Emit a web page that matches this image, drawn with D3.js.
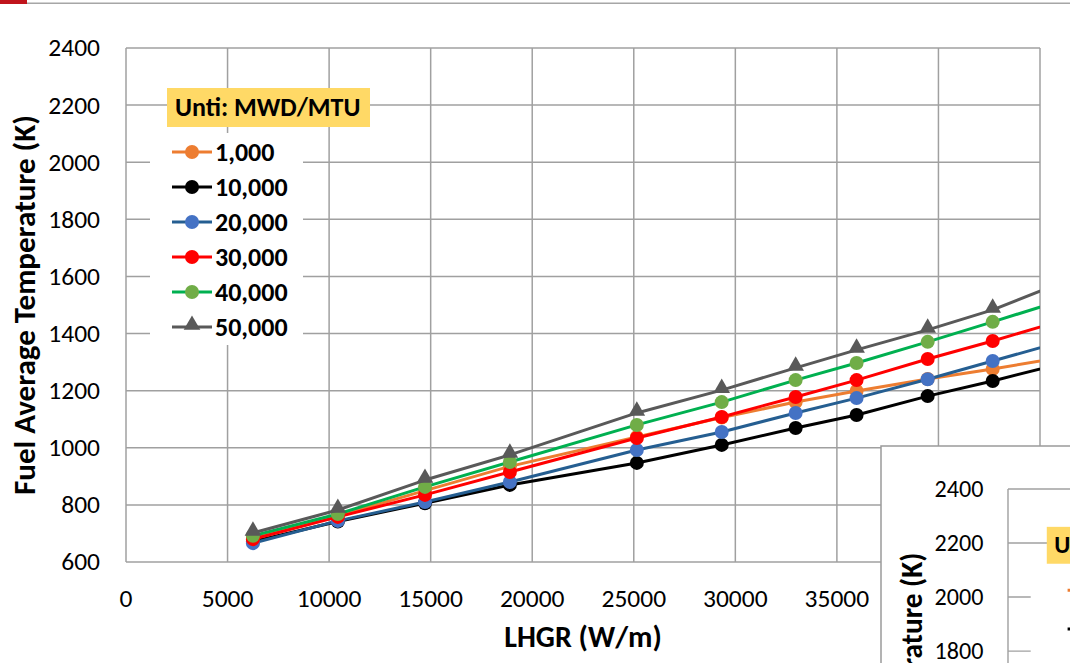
<!DOCTYPE html>
<html>
<head>
<meta charset="utf-8">
<script src="https://cdn.jsdelivr.net/npm/d3@7"></script>
<style>
  body { margin: 0; background: #fff; }
  svg { display: block; font-family: Carlito, Lato, "Open Sans", sans-serif; }
</style>
</head>
<body>
<div id="chart"></div>
<script>
// LHGR (W/m) at each calculated point; the last one lies past the axis end and is clipped
const lhgr = [6250, 10430, 14720, 18900, 25150, 29330, 32970, 35970, 39470, 42670, 46000];

// fuel average temperature (K) per burnup (MWD/MTU)
const t1000  = [688, 762, 850, 935, 1038, 1106, 1160, 1199, 1241, 1276, 1316];
const t10000 = [672, 742, 806, 870, 947, 1010, 1069, 1115, 1181, 1234, 1294];
const t20000 = [666, 744, 810, 880, 992, 1055, 1122, 1174, 1240, 1304, 1370];
const t30000 = [680, 758, 835, 915, 1034, 1108, 1178, 1237, 1311, 1374, 1444];
const t40000 = [692, 768, 863, 950, 1080, 1160, 1237, 1297, 1371, 1441, 1515];
const t50000 = [702, 782, 887, 975, 1122, 1202, 1280, 1343, 1413, 1483, 1577];

const seriesNames = ["1,000", "10,000", "20,000", "30,000", "40,000", "50,000"];
const xTicks = [0, 5000, 10000, 15000, 20000, 25000, 30000, 35000, 40000, 45000];
const yTicks = [600, 800, 1000, 1200, 1400, 1600, 1800, 2000, 2200, 2400];

const series = [
  { name: seriesNames[0], values: t1000,  line: "#ED7D31", mark: "#ED7D31", shape: "circle" },
  { name: seriesNames[1], values: t10000, line: "#000000", mark: "#000000", shape: "circle" },
  { name: seriesNames[2], values: t20000, line: "#255E91", mark: "#4472C4", shape: "circle" },
  { name: seriesNames[3], values: t30000, line: "#FF0000", mark: "#FF0000", shape: "circle" },
  { name: seriesNames[4], values: t40000, line: "#00B050", mark: "#70AD47", shape: "circle" },
  { name: seriesNames[5], values: t50000, line: "#595959", mark: "#595959", shape: "triangle" }
];

const W = 1070, H = 663;
const svg = d3.select("#chart").append("svg").attr("width", W).attr("height", H);

// slide header: red tab + grey rule
svg.append("rect").attr("x", 0).attr("y", 0).attr("width", 27).attr("height", 4).attr("fill", "#C0141C");
svg.append("rect").attr("x", 27).attr("y", 2.5).attr("width", W - 27).attr("height", 1.5).attr("fill", "#A6A6A6");

const x = d3.scaleLinear().domain([0, 45000]).range([126, 1040]);
const y = d3.scaleLinear().domain([600, 2400]).range([562, 48]);

let clipId = 0;

// leg = where the legend entries sit (the pasted copy has them a bit lower and wider apart)
function drawChart(root, leg) {
  const id = "plotclip" + (clipId++);
  root.append("clipPath").attr("id", id)
    .append("rect").attr("x", x(0)).attr("y", y(2400)).attr("width", x(45000) - x(0)).attr("height", y(600) - y(2400));

  // grid
  const grid = root.append("g").attr("stroke", "#A0A0A0").attr("stroke-width", 1.5);
  grid.selectAll("line.h").data(yTicks).join("line")
    .attr("x1", x(0)).attr("x2", x(45000)).attr("y1", d => y(d)).attr("y2", d => y(d));
  grid.selectAll("line.v").data(xTicks).join("line")
    .attr("x1", d => x(d)).attr("x2", d => x(d)).attr("y1", y(600)).attr("y2", y(2400));

  // tick labels
  root.append("g").selectAll("text").data(yTicks).join("text")
    .attr("x", x(0) - 26).attr("y", d => y(d)).attr("dy", "0.33em")
    .attr("text-anchor", "end").attr("font-size", 25.5).attr("fill", "#000")
    .text(d => d);
  root.append("g").selectAll("text").data(xTicks).join("text")
    .attr("x", d => x(d)).attr("y", y(600) + 45)
    .attr("text-anchor", "middle").attr("font-size", 25.5).attr("fill", "#000")
    .text(d => d);

  // axis titles
  root.append("text")
    .attr("transform", "translate(35," + ((y(600) + y(2400)) / 2) + ") rotate(-90)")
    .attr("text-anchor", "middle").attr("font-size", 31).attr("font-weight", "bold")
    .text("Fuel Average Temperature (K)");
  root.append("text")
    .attr("x", (x(0) + x(45000)) / 2).attr("y", 647)
    .attr("text-anchor", "middle").attr("font-size", 30).attr("font-weight", "bold")
    .text("LHGR (W/m)");

  // series
  const plot = root.append("g").attr("clip-path", "url(#" + id + ")");
  const line = d3.line().x((d, i) => x(lhgr[i])).y(d => y(d));
  const tri = d3.symbol().type(d3.symbolTriangle).size(120);
  series.forEach(s => {
    plot.append("path").datum(s.values)
      .attr("fill", "none").attr("stroke", s.line).attr("stroke-width", 3)
      .attr("stroke-linejoin", "round").attr("d", line);
    if (s.shape === "circle") {
      plot.append("g").selectAll("circle").data(s.values).join("circle")
        .attr("cx", (d, i) => x(lhgr[i])).attr("cy", d => y(d)).attr("r", 7)
        .attr("fill", s.mark);
    } else {
      plot.append("g").selectAll("path").data(s.values).join("path")
        .attr("transform", (d, i) => "translate(" + x(lhgr[i]) + "," + (y(d) - 2) + ")")
        .attr("d", tri).attr("fill", s.mark);
    }
  });

  // legend
  root.append("rect").attr("x", 150).attr("y", 133).attr("width", 153).attr("height", 212).attr("fill", "#fff");
  root.append("rect").attr("x", 167).attr("y", 88).attr("width", 203).attr("height", 39).attr("fill", "#FFD966");
  root.append("text").attr("x", 175).attr("y", 116)
    .attr("font-size", 26).attr("font-weight", "bold").text("Unti: MWD/MTU");
  const lg = root.append("g").selectAll("g").data(series).join("g")
    .attr("transform", (d, i) => "translate(" + leg.dx + "," + (leg.y0 + i * leg.step) + ")");
  lg.append("line").attr("x1", 172).attr("x2", 212).attr("y1", 0).attr("y2", 0)
    .attr("stroke", d => d.line).attr("stroke-width", 3);
  lg.filter(d => d.shape === "circle").append("circle")
    .attr("cx", 192).attr("cy", 0).attr("r", 7).attr("fill", d => d.mark);
  lg.filter(d => d.shape === "triangle").append("path")
    .attr("transform", "translate(192,-2)").attr("d", tri).attr("fill", d => d.mark);
  lg.append("text").attr("x", 215).attr("y", 0).attr("dy", "0.34em")
    .attr("font-size", 26).attr("font-weight", "bold").text(d => d.name);
}

drawChart(svg.append("g"), { dx: 0, y0: 152, step: 35 });

// second copy of the same chart pasted over the bottom-right corner of the slide
svg.append("rect").attr("x", 881).attr("y", 446).attr("width", 200).attr("height", 230)
  .attr("fill", "#fff").attr("stroke", "#9A9A9A").attr("stroke-width", 1.5);
const copy = svg.append("g").attr("transform", "translate(888.8,443.6) scale(0.946)");
drawChart(copy, { dx: 17, y0: 155, step: 41 });
</script>
</body>
</html>
